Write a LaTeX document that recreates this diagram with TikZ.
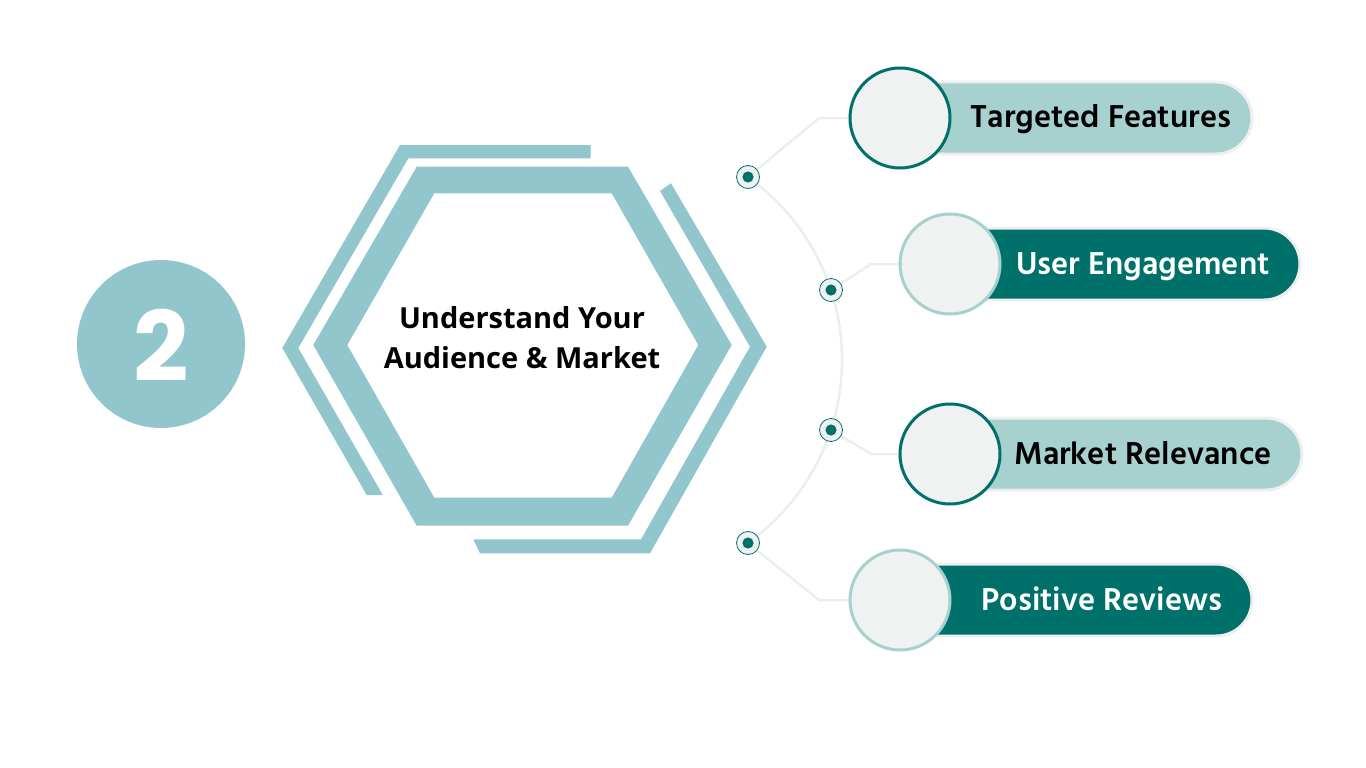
\documentclass[tikz,border=0pt]{standalone}
\usepackage{fontspec}
\setmainfont{Open Sans}
\newfontfamily\pillfont{Hind Siliguri}
\newfontfamily\digitfont{Poppins}
\usetikzlibrary{backgrounds}
\definecolor{hexblue}{HTML}{91C6CD}
\definecolor{paleteal}{HTML}{A6D1CE}
\definecolor{darkteal}{HTML}{00716A}
\definecolor{discfill}{HTML}{F0F2F1}
\definecolor{wire}{HTML}{ECEEED}
\definecolor{pillrim}{HTML}{EEF0EF}

\begin{document}
\begin{tikzpicture}[
    x=1pt, y=-1pt,
    pill/.style={rectangle, rounded corners=36pt, minimum height=72pt, draw=pillrim, line width=3pt},
    disc/.style={circle, minimum size=100pt, inner sep=0pt, fill=discfill, line width=3pt},
    dot/.style={circle, minimum size=23pt, inner sep=0pt, fill=discfill, draw=darkteal, line width=0.8pt,
                path picture={\fill[darkteal] (path picture bounding box.center) circle (5.6pt);}},
    wireline/.style={draw=wire, line width=2.5pt},
    pilltext/.style={anchor=base, font=\pillfont\bfseries\fontsize{32.5}{38}\selectfont}
]
\useasboundingbox (0,0) rectangle (1366,768);

\node[circle, fill=hexblue, minimum size=168pt, inner sep=0pt] (step) at (161,344) {};
\node[text=white, font=\digitfont\bfseries\fontsize{97}{100}\selectfont] (stepnum) at (161,345) {2};

\fill[hexblue, even odd rule]
    (416.7,166.7) -- (628,166.7) -- (731.7,345) -- (628,525.7) -- (416.7,525.7) -- (313.3,345) -- cycle
    (434.3,193.3) -- (611.7,193.3) -- (698.3,345) -- (611.7,497.7) -- (434.3,497.7) -- (347.3,345) -- cycle;
\fill[hexblue] (400,145) -- (590.7,145) -- (590.7,158.3) -- (408.3,158.3) -- (298.3,348)
    -- (382.7,495) -- (366.7,495) -- (282.3,348) -- cycle;
\fill[hexblue] (671,183.3) -- (766.7,346.7) -- (650,553.3) -- (480,553.3) -- (473.3,539.3)
    -- (641,539.3) -- (750,346.7) -- (660,191) -- cycle;
\node[align=center, font=\bfseries\fontsize{29}{40}\selectfont] (title) at (522,338)
    {Understand Your\\Audience \& Market};

\node[pill, fill=paleteal, minimum width=352pt] (p1) at (1076,118) {};
\node[pill, fill=darkteal, minimum width=350pt] (p2) at (1125,264) {};
\node[pill, fill=paleteal, minimum width=352pt] (p3) at (1126,454) {};
\node[pill, fill=darkteal, minimum width=352pt] (p4) at (1076,600) {};

\node[disc, draw=darkteal] (c1) at (900,118) {};
\node[disc, draw=paleteal] (c2) at (950,264) {};
\node[disc, draw=darkteal] (c3) at (950,454) {};
\node[disc, draw=paleteal] (c4) at (900,600) {};

\node[pilltext] (t1) at (1101,128) {Targeted Features};
\node[pilltext, text=white] (t2) at (1143,274.5) {User Engagement};
\node[pilltext] (t3) at (1143,464.5) {Market Relevance};
\node[pilltext, text=white] (t4) at (1102,610.5) {Positive Reviews};

\node[dot] (d1) at (748,177) {};
\node[dot] (d2) at (831,290) {};
\node[dot] (d3) at (831,430) {};
\node[dot] (d4) at (748,543) {};

\coordinate (k1) at (819,118);
\coordinate (k2) at (871,264);
\coordinate (k3) at (871,454);
\coordinate (k4) at (819,600);

\begin{pgfonlayer}{background}
\draw[wireline] (d1.center) arc[start angle=-54.4, end angle=54.4, radius=225];
\draw[wireline] (d1) -- (k1) -- (c1);
\draw[wireline] (d2) -- (k2) -- (c2);
\draw[wireline] (d3) -- (k3) -- (c3);
\draw[wireline] (d4) -- (k4) -- (c4);
\end{pgfonlayer}
\end{tikzpicture}
\end{document}
